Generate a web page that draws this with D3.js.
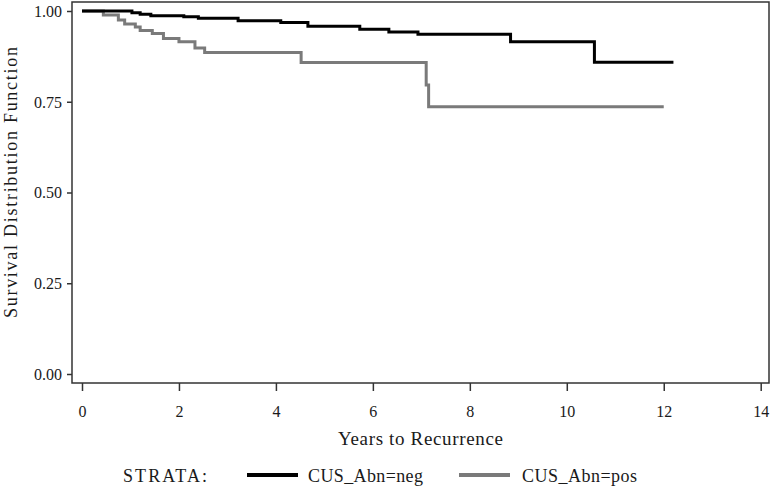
<!DOCTYPE html>
<html>
<head>
<meta charset="utf-8">
<script src="https://cdn.jsdelivr.net/npm/d3@7"></script>
<style>
  html, body { margin: 0; padding: 0; background: #fff; }
  svg { display: block; }
  text { font-family: "Liberation Serif", "Times New Roman", serif; fill: #1a1a1a; }
</style>
</head>
<body>
<svg id="chart" width="771" height="488"></svg>
<script>
// ---- data ----
const negTimes    = [0, 1.03, 1.20, 1.42, 2.10, 2.40, 3.22, 4.10, 4.66, 5.73, 6.33, 6.93, 8.84, 10.57, 12.20];
const negSurvival = [1.000, 0.995, 0.991, 0.987, 0.984, 0.980, 0.973, 0.968, 0.958, 0.950, 0.942, 0.936, 0.915, 0.859, 0.859];

const posTimes    = [0, 0.44, 0.75, 0.88, 1.10, 1.20, 1.45, 1.68, 2.00, 2.33, 2.53, 4.52, 7.10, 7.15, 12.00];
const posSurvival = [1.000, 0.989, 0.975, 0.964, 0.956, 0.946, 0.938, 0.924, 0.915, 0.898, 0.886, 0.858, 0.796, 0.736, 0.736];

const xTicks = [0, 2, 4, 6, 8, 10, 12, 14];
const yTicks = [0, 0.25, 0.5, 0.75, 1.0];
const strataNames = ["CUS_Abn=neg", "CUS_Abn=pos"];

// ---- layout ----
const svg = d3.select("#chart");
const frame = { left: 72, right: 769, top: 2, bottom: 383 };
const x = d3.scaleLinear().domain([0, 14]).range([82, 760.7]);
const y = d3.scaleLinear().domain([0, 1]).range([374, 11]);

// frame
svg.append("rect")
  .attr("x", frame.left).attr("y", frame.top)
  .attr("width", frame.right - frame.left).attr("height", frame.bottom - frame.top)
  .attr("fill", "none").attr("stroke", "#333").attr("stroke-width", 1.5);

// x axis
const xAxis = svg.append("g")
  .attr("transform", `translate(0,${frame.bottom})`)
  .call(d3.axisBottom(x).tickValues(xTicks).tickFormat(d3.format("d")).tickSize(8).tickSizeOuter(0));
xAxis.select(".domain").remove();
xAxis.selectAll(".tick line").attr("stroke", "#333").attr("stroke-width", 1.5);
xAxis.selectAll(".tick text").attr("font-size", 16).attr("y", 0).attr("dy", 0)
  .attr("transform", "translate(0,34)")
  .style("font-family", '"Liberation Serif", serif').attr("fill", "#1a1a1a");

// y axis
const yAxis = svg.append("g")
  .attr("transform", `translate(${frame.left},0)`)
  .call(d3.axisLeft(y).tickValues(yTicks).tickFormat(d3.format(".2f")).tickSize(5).tickSizeOuter(0));
yAxis.select(".domain").remove();
yAxis.selectAll(".tick line").attr("stroke", "#333").attr("stroke-width", 1.5);
yAxis.selectAll(".tick text").attr("font-size", 16).attr("x", -10).attr("dy", "0.34em")
  .style("font-family", '"Liberation Serif", serif').attr("fill", "#1a1a1a");

// axis titles
svg.append("text")
  .attr("x", 338).attr("y", 445)
  .attr("font-size", 19)
  .attr("textLength", 165).attr("lengthAdjust", "spacing")
  .text("Years to Recurrence");

svg.append("text")
  .attr("transform", "translate(17,318) rotate(-90)")
  .attr("font-size", 18)
  .attr("textLength", 271).attr("lengthAdjust", "spacing")
  .text("Survival Distribution Function");

// curves
const line = d3.line()
  .x(d => x(d[0])).y(d => y(d[1]))
  .curve(d3.curveStepAfter);

const posData = posTimes.map((t, i) => [t, posSurvival[i]]);
const negData = negTimes.map((t, i) => [t, negSurvival[i]]);

svg.append("path").datum(posData)
  .attr("d", line).attr("fill", "none")
  .attr("stroke", "#7a7a7a").attr("stroke-width", 3);
svg.append("path").datum(negData)
  .attr("d", line).attr("fill", "none")
  .attr("stroke", "#000").attr("stroke-width", 3);

// legend
const legY = 475;
svg.append("text").attr("x", 123).attr("y", 482).attr("font-size", 18)
  .attr("textLength", 84).attr("lengthAdjust", "spacing").text("STRATA:");

const legItems = [
  { name: strataNames[0], color: "#000", x0: 247, x1: 298, tx: 308 },
  { name: strataNames[1], color: "#7a7a7a", x0: 459, x1: 510, tx: 522 }
];
legItems.forEach(it => {
  svg.append("line").attr("x1", it.x0).attr("x2", it.x1).attr("y1", legY).attr("y2", legY)
    .attr("stroke", it.color).attr("stroke-width", 4);
  svg.append("text").attr("x", it.tx).attr("y", 482).attr("font-size", 18)
    .attr("textLength", 115).attr("lengthAdjust", "spacing").text(it.name);
});
</script>
</body>
</html>
